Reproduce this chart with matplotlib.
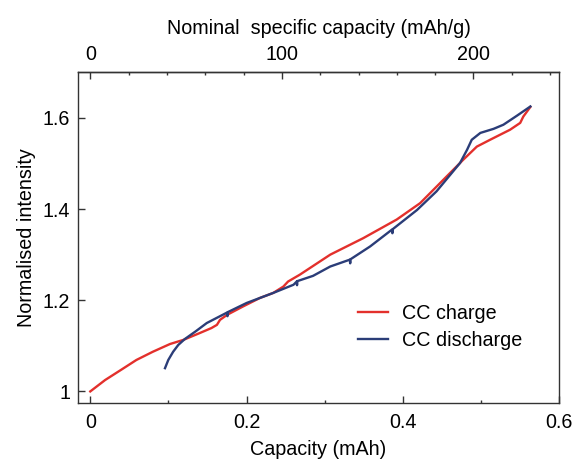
import matplotlib
matplotlib.use("Agg")
import matplotlib.pyplot as plt
from matplotlib.ticker import MultipleLocator

plt.rcParams['font.family'] = ['Liberation Sans', 'DejaVu Sans']

# CC charge (red)
charge_x = [0.0, 0.019, 0.040, 0.059, 0.080, 0.102, 0.119, 0.140, 0.155, 0.162,
            0.166, 0.175, 0.195, 0.217, 0.234, 0.247, 0.253, 0.268, 0.307, 0.349,
            0.392, 0.422, 0.4475, 0.477, 0.4945, 0.5115, 0.537, 0.550, 0.554, 0.563]
charge_y = [1.000, 1.025, 1.048, 1.069, 1.087, 1.104, 1.113, 1.128, 1.139, 1.146,
            1.157, 1.168, 1.186, 1.205, 1.216, 1.230, 1.241, 1.256, 1.300, 1.336,
            1.377, 1.413, 1.457, 1.508, 1.537, 1.552, 1.574, 1.589, 1.603, 1.624]

# CC discharge (blue), including the small glitches seen in the trace
discharge_x = [0.0956, 0.0998, 0.106, 0.1126, 0.121, 0.135, 0.149, 0.175, 0.1755, 0.176,
               0.200, 0.234, 0.260, 0.264, 0.2645, 0.265, 0.285, 0.307, 0.332, 0.3325,
               0.333, 0.358, 0.386, 0.3865, 0.387, 0.418, 0.443, 0.473, 0.482, 0.488,
               0.499, 0.516, 0.5285, 0.546, 0.563]
discharge_y = [1.051, 1.069, 1.087, 1.102, 1.115, 1.132, 1.150, 1.173, 1.165, 1.174,
               1.194, 1.216, 1.234, 1.241, 1.233, 1.242, 1.2535, 1.274, 1.289, 1.281,
               1.290, 1.318, 1.355, 1.347, 1.356, 1.398, 1.439, 1.501, 1.530, 1.552,
               1.567, 1.576, 1.585, 1.605, 1.625]

x_ticks = [0, 0.2, 0.4, 0.6]
x_ticklabels = ['0', '0.2', '0.4', '0.6']
y_ticks = [1.0, 1.2, 1.4, 1.6]
y_ticklabels = ['1', '1.2', '1.4', '1.6']
top_ticks = [0, 100, 200]
mass_factor = 408.0  # mAh/g per mAh

red = '#e3302c'
blue = '#2b3d78'
fs = 14.2

fig = plt.figure(figsize=(5.75, 4.61), dpi=100)
ax = fig.add_axes([0.1351, 0.1252, 0.9727 - 0.1351, 0.8432 - 0.1252])

ax.plot(charge_x, charge_y, color=red, lw=1.7, label='CC charge')
ax.plot(discharge_x, discharge_y, color=blue, lw=1.7, label='CC discharge')

ax.set_xlim(-0.0161, 0.6)
ax.set_ylim(0.974, 1.70)
ax.set_xticks(x_ticks)
ax.set_xticklabels(x_ticklabels)
ax.xaxis.set_minor_locator(MultipleLocator(0.1))
ax.set_yticks(y_ticks)
ax.set_yticklabels(y_ticklabels)

for s in ax.spines.values():
    s.set_linewidth(1.0)
    s.set_color('#333333')

ax.tick_params(axis='x', which='major', direction='in', length=5, width=1.0,
               labelsize=fs, pad=7, color='#333333')
ax.tick_params(axis='x', which='minor', direction='in', length=2.5, width=1.0,
               color='#333333')
ax.tick_params(axis='y', which='major', direction='in', length=5, width=1.0,
               labelsize=fs, pad=5.5, color='#333333')

ax.set_xlabel('Capacity (mAh)', fontsize=fs, labelpad=6)
ax.set_ylabel('Normalised intensity', fontsize=fs, labelpad=5)

top = ax.secondary_xaxis('top', functions=(lambda x: x * mass_factor,
                                           lambda v: v / mass_factor))
top.set_xticks(top_ticks)
top.set_xticklabels([str(t) for t in top_ticks])
top.xaxis.set_minor_locator(MultipleLocator(20))
top.tick_params(which='major', direction='in', length=5, width=1.0,
                labelsize=fs, pad=6, color='#333333')
top.tick_params(which='minor', direction='in', length=2.5, width=1.0,
                color='#333333')
top.spines['top'].set_linewidth(1.0)
top.spines['top'].set_color('#333333')
top.set_xlabel('Nominal  specific capacity (mAh/g)', fontsize=fs, labelpad=8)

leg = ax.legend(loc='upper left', bbox_to_anchor=(0.566, 0.323), frameon=False,
                fontsize=fs, handlelength=1.52, handletextpad=0.7,
                labelspacing=0.38, borderaxespad=0)

fig.savefig('out.png', dpi=100)
